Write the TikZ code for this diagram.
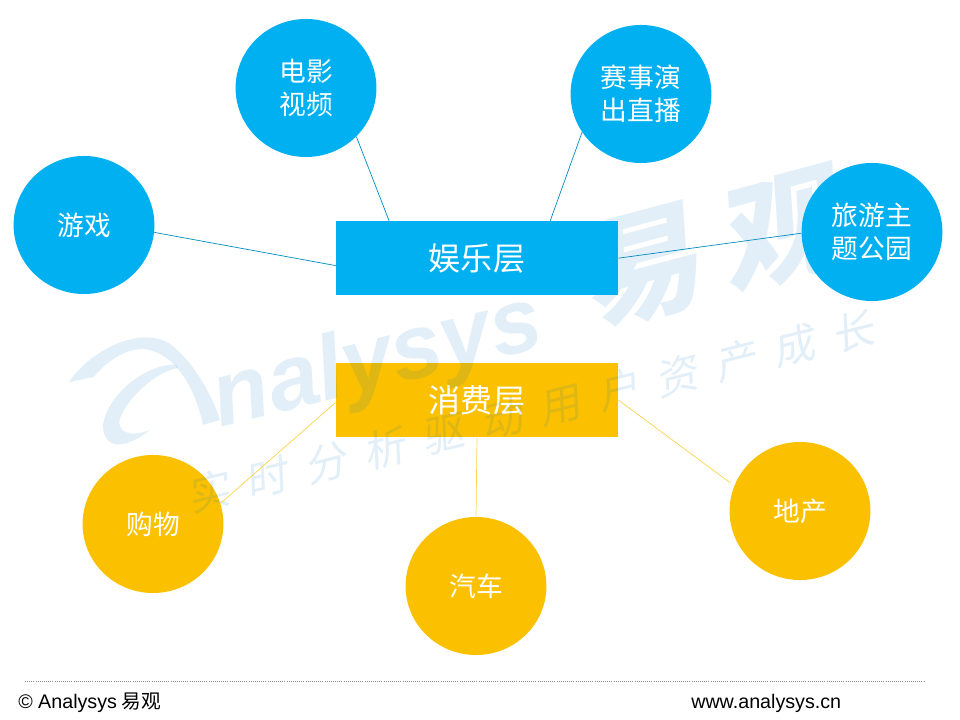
\documentclass[tikz,border=0pt]{standalone}
\usepackage{fontspec}
\setmainfont{Noto Sans CJK SC}
\newfontfamily\latinfont{Liberation Sans}
\newfontfamily\slantfont[FakeSlant=0.2]{Noto Sans CJK SC}
\newfontfamily\spacedfont[FakeSlant=0.2,LetterSpace=43]{Noto Sans CJK SC}
\usepackage{xcolor}
\usetikzlibrary{positioning,shapes.geometric}
\definecolor{entblue}{HTML}{00B0F0}
\definecolor{consyellow}{HTML}{FBC100}
\definecolor{wmblue}{HTML}{006EBE}

\begin{document}
\begin{tikzpicture}[
    x=0.025cm, y=-0.025cm,
    layer/.style={rectangle, fill=#1, text=white, minimum width=7.05cm, minimum height=1.85cm,
                  inner sep=0pt, font=\fontsize{22.8}{27}\selectfont},
    topic/.style={ellipse, fill=#1, text=white, minimum width=3.52cm, minimum height=3.45cm,
                  inner sep=0pt, align=center, font=\fontsize{19}{23.5}\selectfont},
    bluelink/.style={draw=entblue!80!black, line width=0.5pt},
    yellowlink/.style={draw=consyellow!70!white, line width=0.5pt},
    wmark/.style={opacity=0.11, text=wmblue},
    wmswoosh/.style={opacity=0.11, fill=wmblue}
]
\useasboundingbox (0,0) rectangle (960,720);

% Consumption layer and topics
\node[layer=consyellow] (cons) at (477,400) {消费层};
\node[topic=consyellow] (shop) at (153,524) {购物};
\node[topic=consyellow] (auto) at (476,586) {汽车};
\node[topic=consyellow] (estate) at (800,511) {地产};

% Watermark
\fill[wmswoosh] (69,382) .. controls (90,350) and (145,322) .. (174,347)
    .. controls (195,365) and (212,395) .. (220,420) -- (203,425)
    .. controls (197,395) and (178,352) .. (143,349) .. controls (122,349) and (102,366) .. (94,377) -- cycle;
\fill[wmswoosh] (177,365) .. controls (150,362) and (108,392) .. (103,425)
    .. controls (103,450) and (125,450) .. (150,430) .. controls (130,438) and (116,432) .. (120,418)
    .. controls (128,398) and (155,372) .. (178,368) -- cycle;
\node[wmark, rotate=14, font=\latinfont\bfseries\itshape\fontsize{65}{65}\selectfont] (brand) at (378,364) {nalysys};
\node[wmark, rotate=15, font=\slantfont\bfseries\fontsize{85}{85}\selectfont] (brandcn) at (708,250) {易\hspace{16pt}观};
\node[wmark, rotate=14, font=\spacedfont\fontsize{30}{30}\selectfont] (slogan) at (530,412) {实时分析驱动用户资产成长};

% Entertainment layer and topics
\node[layer=entblue, above=1.68cm of cons] (ent) {娱乐层};
\node[topic=entblue] (game) at (84,225) {游戏};
\node[topic=entblue] (movie) at (306,88) {电影\\视频};
\node[topic=entblue] (event) at (641,94) {赛事演\\出直播};
\node[topic=entblue] (travel) at (872,232) {旅游主\\题公园};

% Links
\draw[bluelink] (game.-6) -- (ent.183);
\draw[bluelink] (movie.-44) -- (ent.157);
\draw[bluelink] (event.213) -- (ent.27);
\draw[bluelink] (travel.181) -- (ent.east);
\draw[yellowlink] (shop.17) -- (cons.181);
\draw[yellowlink] (auto.north) -- (cons.south);
\draw[yellowlink, shorten <=0.12cm] (estate.159) -- (cons.east);

% Footer
\coordinate (ruleleft) at (25,681);
\coordinate (ruleright) at (924,681);
\draw[black!45, densely dotted, line width=0.5pt] (ruleleft) -- (ruleright);
\node[right, inner sep=0pt, font=\fontsize{14}{16}\selectfont] (copyright) at (18,703) {{\latinfont © Analysys} 易观};
\node[right, inner sep=0pt, font=\latinfont\fontsize{14}{16}\selectfont] (site) at (691,703) {www.analysys.cn};

\end{tikzpicture}
\end{document}
